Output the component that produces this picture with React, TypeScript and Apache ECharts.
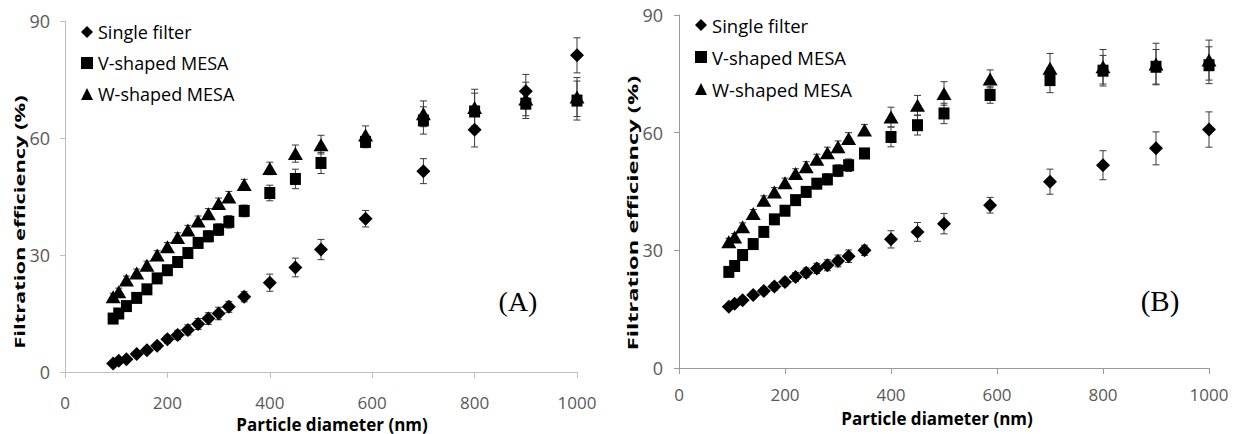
import React, { useEffect, useRef } from "react";
import * as echarts from "echarts";

// Particle diameters (nm)
const diameters = [94, 105, 120, 140, 160, 180, 200, 220, 240, 260, 280, 300, 320, 350, 400, 450, 500, 587, 700, 800, 900, 1000];

const seriesNames = ["Single filter", "V-shaped MESA", "W-shaped MESA"];
const xTicks = [0, 200, 400, 600, 800, 1000];
const yTicks = [0, 30, 60, 90];

// Panel (A)
const aSingle = [2.2, 2.9, 3.3, 4.6, 5.6, 6.7, 8.4, 9.5, 10.8, 12.3, 13.7, 15.0, 16.7, 19.3, 22.9, 26.8, 31.4, 39.3, 51.5, 62.1, 72.0, 81.2];
const aSingleErr = [0.6, 0.6, 0.6, 0.7, 0.8, 0.9, 1.0, 1.2, 1.3, 1.4, 1.5, 1.6, 1.4, 1.3, 2.2, 2.4, 2.6, 2.1, 3.2, 4.4, 4.3, 4.5];
const aV = [13.7, 15.0, 16.9, 19.0, 21.2, 24.0, 26.1, 28.2, 30.5, 33.1, 34.8, 36.5, 38.5, 41.3, 45.9, 49.5, 53.6, 59.0, 64.5, 66.8, 68.8, 69.6];
const aVErr = [0.8, 0.8, 0.8, 0.9, 1.0, 1.0, 1.1, 1.2, 1.2, 1.3, 1.4, 1.5, 1.6, 1.5, 2.0, 2.5, 2.7, 1.5, 3.5, 4.7, 3.8, 5.0];
const aW = [19.3, 20.6, 23.6, 25.4, 27.4, 30.0, 32.1, 34.5, 36.4, 38.7, 40.6, 43.2, 44.9, 48.1, 52.2, 56.0, 58.3, 60.8, 66.2, 67.8, 70.0, 70.5];
const aWErr = [0.9, 0.9, 1.0, 1.0, 1.0, 1.1, 1.1, 1.2, 1.2, 1.3, 1.3, 1.4, 1.4, 1.3, 1.6, 2.2, 2.4, 2.3, 3.3, 4.7, 4.3, 5.0];

// Panel (B)
const bSingle = [15.6, 16.4, 17.3, 18.6, 19.6, 20.8, 21.9, 23.2, 24.3, 25.4, 26.2, 27.3, 28.5, 30.0, 32.8, 34.7, 36.8, 41.5, 47.5, 51.7, 56.0, 60.8];
const bSingleErr = [0.7, 0.7, 0.8, 0.8, 0.9, 1.0, 1.0, 1.1, 1.2, 1.3, 1.4, 1.5, 1.6, 1.3, 2.2, 2.4, 2.6, 2.0, 3.2, 3.7, 4.2, 4.5];
const bV = [24.5, 26.0, 28.8, 31.6, 34.7, 37.9, 40.1, 42.8, 44.9, 47.0, 48.1, 50.3, 51.7, 54.7, 58.9, 61.9, 64.9, 69.6, 73.4, 75.8, 76.8, 77.2];
const bVErr = [0.9, 0.9, 1.0, 1.0, 1.1, 1.1, 1.2, 1.2, 1.3, 1.3, 1.4, 1.5, 1.6, 1.3, 2.5, 2.5, 2.6, 2.1, 3.2, 3.9, 4.4, 4.7];
const bW = [32.2, 33.4, 36.0, 39.4, 42.8, 44.9, 47.2, 49.6, 51.3, 53.2, 54.9, 56.4, 58.5, 60.7, 64.0, 67.0, 70.0, 73.7, 76.4, 76.8, 77.5, 78.5];
const bWErr = [0.9, 0.9, 1.0, 1.0, 1.1, 1.1, 1.2, 1.2, 1.3, 1.3, 1.4, 1.5, 1.5, 1.4, 2.5, 2.5, 3.0, 2.3, 3.8, 4.4, 5.3, 5.1];

const symbols: any[] = ["diamond", "rect", "triangle"];
const symbolSizes: any[] = [14, [11, 12], [15, 13]];

function scatter(name: string, idx: number, panel: number, ys: number[]) {
  return {
    type: "scatter",
    name,
    xAxisIndex: panel,
    yAxisIndex: panel,
    symbol: symbols[idx],
    symbolSize: symbolSizes[idx],
    itemStyle: { color: "#000", opacity: 1 },
    z: 3,
    data: diameters.map((d, i) => [d, ys[i]]),
  };
}

function errorBars(id: string, panel: number, ys: number[], errs: number[]) {
  return {
    type: "custom",
    name: id,
    xAxisIndex: panel,
    yAxisIndex: panel,
    z: 2,
    silent: true,
    encode: { x: 0, y: 1 },
    data: diameters.map((d, i) => [d, ys[i], errs[i]]),
    renderItem: (params: any, api: any) => {
      const x = api.value(0);
      const y = api.value(1);
      const e = api.value(2);
      const top = api.coord([x, y + e]);
      const bot = api.coord([x, y - e]);
      const hw = 3.5;
      const st = { stroke: "#3a3a3a", lineWidth: 1 };
      return {
        type: "group",
        children: [
          { type: "line", shape: { x1: top[0], y1: top[1], x2: bot[0], y2: bot[1] }, style: st },
          { type: "line", shape: { x1: top[0] - hw, y1: top[1], x2: top[0] + hw, y2: top[1] }, style: st },
          { type: "line", shape: { x1: bot[0] - hw, y1: bot[1], x2: bot[0] + hw, y2: bot[1] }, style: st },
        ],
      };
    },
  };
}

const tickFont = "'Liberation Sans Narrow', 'Open Sans', sans-serif";

function xAxis(panel: number, axisColor: string, margin: number) {
  return {
    type: "value",
    gridIndex: panel,
    min: xTicks[0],
    max: xTicks[xTicks.length - 1],
    interval: 200,
    axisLine: { show: true, lineStyle: { color: axisColor, width: 1 } },
    axisTick: { show: true, length: 6, lineStyle: { color: axisColor } },
    splitLine: { show: false },
    axisLabel: {
      color: "#595959",
      fontSize: 17,
      lineHeight: 14,
      fontFamily: tickFont,
      margin,
      formatter: (v: number) => String(v),
    },
  };
}

function yAxis(panel: number, axisColor: string, margin: number) {
  return {
    type: "value",
    gridIndex: panel,
    min: yTicks[0],
    max: yTicks[yTicks.length - 1],
    interval: 30,
    axisLine: { show: true, lineStyle: { color: axisColor, width: 1 } },
    axisTick: { show: true, length: 5, lineStyle: { color: axisColor } },
    splitLine: { show: false },
    axisLabel: {
      color: "#595959",
      fontSize: 18,
      fontFamily: tickFont,
      margin,
      formatter: (v: number) => String(v),
    },
  };
}

function legend(left: number, top: number, gap: number, size: number) {
  return {
    orient: "vertical",
    left,
    top,
    padding: 0,
    itemGap: gap,
    itemWidth: 12,
    itemHeight: 12,
    selectedMode: false,
    textStyle: { color: "#000", fontSize: size, fontFamily: "'Open Sans', sans-serif", lineHeight: 20 },
    data: seriesNames.map((n, i) => ({ name: n, icon: symbols[i] })),
  };
}

function titleText(text: string, x: number, y: number) {
  return {
    type: "text",
    x,
    y,
    style: {
      text,
      fontSize: 17,
      fontWeight: "bold",
      fontFamily: "'Open Sans', sans-serif",
      lineHeight: 16,
      fill: "#000",
      textAlign: "center",
      textVerticalAlign: "middle",
    },
  };
}

function yTitleText(x: number, y: number, stretch: number) {
  return {
    type: "text",
    x,
    y,
    rotation: Math.PI / 2,
    scaleX: stretch,
    style: {
      text: "Filtration efficiency (%)",
      fontSize: 15,
      fontWeight: "bold",
      fontFamily: "'Open Sans', sans-serif",
      fill: "#000",
      textAlign: "center",
      textVerticalAlign: "middle",
    },
  };
}

export default function App() {
  const ref = useRef<HTMLDivElement>(null);
  useEffect(() => {
    if (!ref.current) return;
    const chart = echarts.init(ref.current, null, { renderer: "svg" });
    chart.setOption({
      animation: false,
      backgroundColor: "#fff",
      grid: [
        { left: 65, top: 21, width: 512, height: 351 },
        { left: 679, top: 15, width: 530, height: 353 },
      ],
      xAxis: [xAxis(0, "#bfbfbf", 23), xAxis(1, "#9a9a9a", 19)],
      yAxis: [yAxis(0, "#bfbfbf", 15), yAxis(1, "#9a9a9a", 16)],
      legend: [legend(81, 22, 11, 18), legend(695, 15, 12, 18.5)],
      graphic: [
        titleText("Particle diameter (nm)", 332, 424),
        titleText("Particle diameter (nm)", 937, 418),
        yTitleText(19, 222, 1.46),
        yTitleText(632, 213, 1.58),
        {
          type: "text",
          x: 518,
          y: 301,
          style: { text: "(A)", font: "28px 'Liberation Serif', serif", fill: "#000", textAlign: "center", textVerticalAlign: "middle" },
        },
        {
          type: "text",
          x: 1160,
          y: 301,
          style: { text: "(B)", font: "29px 'Liberation Serif', serif", fill: "#000", textAlign: "center", textVerticalAlign: "middle" },
        },
      ],
      series: [
        errorBars("errA0", 0, aSingle, aSingleErr),
        errorBars("errA1", 0, aV, aVErr),
        errorBars("errA2", 0, aW, aWErr),
        errorBars("errB0", 1, bSingle, bSingleErr),
        errorBars("errB1", 1, bV, bVErr),
        errorBars("errB2", 1, bW, bWErr),
        scatter(seriesNames[0], 0, 0, aSingle),
        scatter(seriesNames[1], 1, 0, aV),
        scatter(seriesNames[2], 2, 0, aW),
        scatter(seriesNames[0], 0, 1, bSingle),
        scatter(seriesNames[1], 1, 1, bV),
        scatter(seriesNames[2], 2, 1, bW),
      ],
    });
    return () => chart.dispose();
  }, []);
  return <div ref={ref} style={{ position: "fixed", left: 0, top: 0, width: 1239, height: 434, background: "#fff" }} />;
}
